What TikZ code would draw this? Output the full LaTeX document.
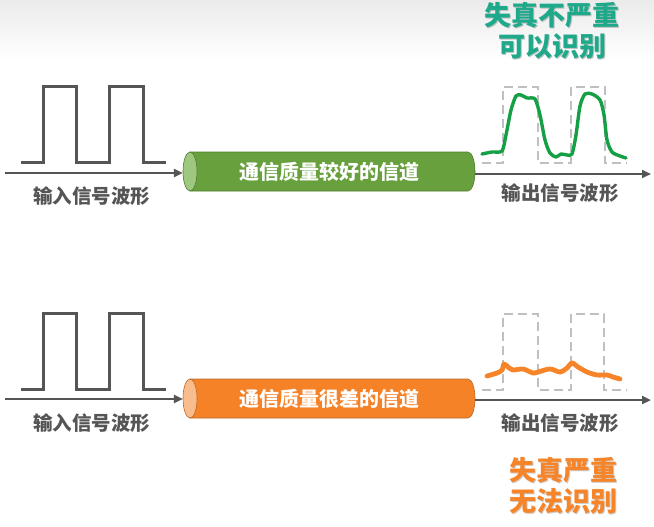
\documentclass[tikz,border=0pt]{standalone}
\usepackage{fontspec}
\newfontfamily\cjk{Noto Sans CJK SC}
\usetikzlibrary{arrows.meta}
\definecolor{wavegray}{RGB}{85,85,85}
\definecolor{dashgray}{RGB}{192,192,192}
\definecolor{goodgreen}{RGB}{22,160,70}
\definecolor{titlegreen}{RGB}{30,170,138}
\definecolor{badorange}{RGB}{246,132,40}
\definecolor{cylgreen}{RGB}{104,160,62}
\definecolor{cylgreenend}{RGB}{158,200,128}
\definecolor{cylgreenline}{RGB}{78,125,45}
\definecolor{cylorange}{RGB}{246,130,40}
\definecolor{cylorangeend}{RGB}{249,188,140}
\definecolor{cylorangeline}{RGB}{185,105,40}
\tikzset{
  inwave/.style={draw=wavegray, line width=3pt, line join=miter},
  outwave/.style={draw=dashgray, line width=2.8pt, dash pattern=on 9pt off 5pt},
  axisarrow/.style={draw=wavegray, line width=2.4pt, -{Triangle[length=9pt,width=8pt]}},
  wavelabel/.style={font=\cjk\bfseries\fontsize{19.5}{21}\selectfont, text=wavegray, inner sep=0pt},
  chantext/.style={font=\cjk\bfseries\fontsize{20}{22}\selectfont, text=white, inner sep=0pt, minimum width=292pt, minimum height=39pt},
  titletext/.style={font=\cjk\bfseries\fontsize{27}{32}\selectfont, inner sep=0pt, align=center},
}
\begin{document}
\begin{tikzpicture}[x=1pt,y=1pt]
\useasboundingbox (0,0) rectangle (654,-527);
\fill[white] (0,0) rectangle (654,-527);
\shade[top color=black!8, bottom color=white] (0,0) rectangle (654,-60);

% ===== top row =====
\draw[inwave] (21,-162) -- (43,-162) -- (43,-87) -- (76,-87) -- (76,-162) -- (109,-162) -- (109,-87) -- (143,-87) -- (143,-162) -- (166,-162);
\coordinate (s1) at (5,-173);
\node[chantext] (ch1) at (329,-171.5) {};
% cylinder body
\filldraw[fill=cylgreen, draw=cylgreenline, line width=0.6pt]
  (190,-152) -- (468,-152) arc (90:-90:7 and 19.5) -- (190,-191) -- cycle;
\filldraw[fill=cylgreenend, draw=cylgreenline, line width=0.6pt] (190,-171.5) ellipse (7 and 19.5);
\node[chantext] at (ch1) {通信质量较好的信道};
\coordinate (e1) at (651,-174);
\draw[axisarrow] (s1) -- (ch1.west |- s1);
\draw[axisarrow] (ch1.east |- e1) -- (e1);
\node[wavelabel] (l1) at (92,-196) {输入信号波形};
\node[wavelabel] (r1) at (560,-193) {输出信号波形};
\draw[outwave] (482,-163) -- (503,-163) -- (503,-87) -- (538,-87) -- (538,-163) -- (571,-163) -- (571,-87) -- (605,-87) -- (605,-163) -- (627,-163);
\draw[goodgreen, line width=3.4pt, line join=round, line cap=round] plot[smooth, tension=0.45] coordinates {
 (482,-154) (492,-152) (502,-151) (506,-135) (511,-110) (516,-96) (521,-95) (527,-98) (535,-99)
 (540,-115) (545,-140) (550,-153) (556,-157) (561,-154) (567,-155) (572,-154) (576,-135)
 (580,-106) (585,-94) (592,-94) (600,-100) (604,-115) (607,-140) (612,-152) (620,-156) (626,-158)};
\node[titletext, text=black!25] at (553,-32) {失真不严重\\[-1pt]可以识别};
\node[titletext, text=titlegreen] (t1) at (552,-31) {失真不严重\\[-1pt]可以识别};

% ===== bottom row =====
\draw[inwave] (21,-389) -- (43,-389) -- (43,-313) -- (76,-313) -- (76,-389) -- (109,-389) -- (109,-313) -- (143,-313) -- (143,-389) -- (166,-389);
\coordinate (s2) at (5,-399);
\node[chantext] (ch2) at (329,-398.5) {};
\filldraw[fill=cylorange, draw=cylorangeline, line width=0.6pt]
  (190,-379) -- (468,-379) arc (90:-90:7 and 19.5) -- (190,-418) -- cycle;
\filldraw[fill=cylorangeend, draw=cylorangeline, line width=0.6pt] (190,-398.5) ellipse (7 and 19.5);
\node[chantext] at (ch2) {通信质量很差的信道};
\coordinate (e2) at (651,-400);
\draw[axisarrow] (s2) -- (ch2.west |- s2);
\draw[axisarrow] (ch2.east |- e2) -- (e2);
\node[wavelabel] (l2) at (92,-423) {输入信号波形};
\node[wavelabel] (r2) at (560,-423) {输出信号波形};
\draw[outwave] (482,-390) -- (503,-390) -- (503,-314) -- (538,-314) -- (538,-390) -- (571,-390) -- (571,-314) -- (604,-314) -- (604,-390) -- (627,-390);
\draw[badorange, line width=4.8pt, line join=round, line cap=round] plot[smooth, tension=0.5] coordinates {
 (487,-376) (497,-373) (502,-370) (504,-364) (508,-367) (513,-370) (523,-369) (533,-373) (538,-372)
 (550,-369) (560,-372) (567,-368) (572,-363) (578,-367) (587,-372) (597,-375) (607,-375) (613,-377) (620,-379)};
\node[titletext, text=black!20] at (564,-487) {失真严重\\[-1pt]无法识别};
\node[titletext, text=badorange] (t2) at (563,-486) {失真严重\\[-1pt]无法识别};
\end{tikzpicture}
\end{document}
